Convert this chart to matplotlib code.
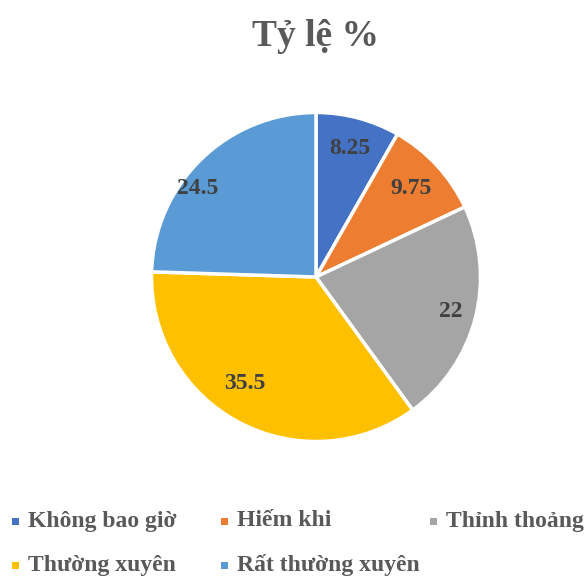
import matplotlib
matplotlib.use("Agg")
import matplotlib.pyplot as plt
import numpy as np
from matplotlib.patches import Rectangle

categories = ["Không bao giờ", "Hiếm khi", "Thỉnh thoảng", "Thường xuyên", "Rất thường xuyên"]
values = [8.25, 9.75, 22, 35.5, 24.5]
value_labels = ["8.25", "9.75", "22", "35.5", "24.5"]
colors = ["#4472C4", "#ED7D31", "#A5A5A5", "#FFC000", "#5B9BD5"]
title = "Tỷ lệ %"

W, H = 586, 577
fig = plt.figure(figsize=(W / 100, H / 100), dpi=100)
font = "Liberation Serif"

cx, cy, r = 316, 277, 164.5
ax = fig.add_axes([(cx - r) / W, (H - cy - r) / H, 2 * r / W, 2 * r / H])
wedges, _ = ax.pie(values, colors=colors, startangle=90, counterclock=False,
                   radius=1.0, wedgeprops=dict(edgecolor="white", linewidth=2.5))
ax.set_xlim(-1, 1)
ax.set_ylim(-1, 1)
ax.set_aspect("equal")
ax.axis("off")

# label placement (layout only)
dist = [0.81, 0.79, 0.845, 0.78, 0.90]
ang_off = [0, 0, 0, -6, 9]
for w, lab, d, off in zip(wedges, value_labels, dist, ang_off):
    ang = np.deg2rad((w.theta1 + w.theta2) / 2 + off)
    ax.text(d * np.cos(ang), d * np.sin(ang), lab, ha="center", va="center",
            fontsize=17, fontweight="bold", family=font, color="#404040")

fig.text(316 / W, 1 - 36 / H, title, ha="center", va="center", fontsize=27,
         fontweight="bold", family=font, color="#595959")

# legend, drawn manually
pos = [(12, 521), (221, 521), (430, 521), (12, 565), (221, 565)]
for (x, y), cat, col in zip(pos, categories, colors):
    fig.patches.append(Rectangle((x / W, (H - y - 3.5) / H), 7 / W, 7 / H,
                                 transform=fig.transFigure, facecolor=col, edgecolor="none"))
    fig.text((x + 16) / W, 1 - y / H, cat, ha="left", va="center", fontsize=17,
             fontweight="bold", family=font, color="#595959")

fig.savefig("out.png", dpi=100)
